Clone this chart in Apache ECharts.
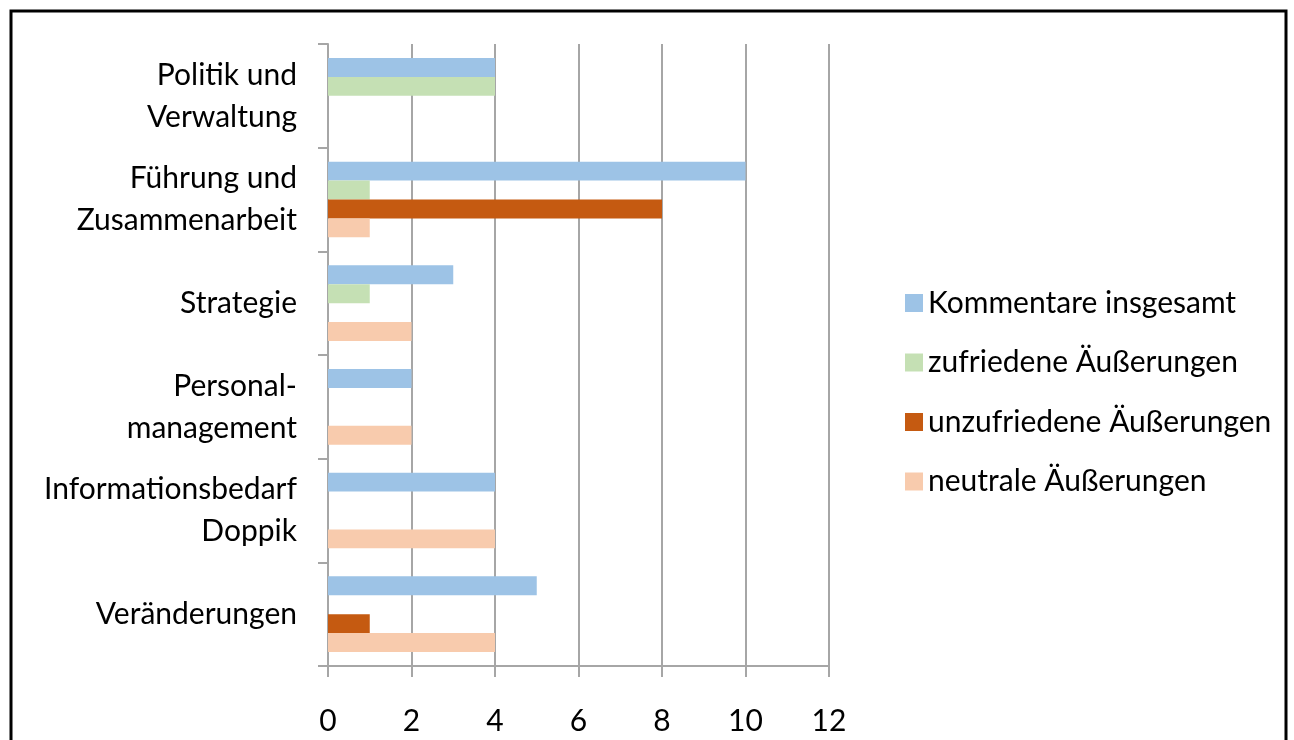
<!DOCTYPE html>
<html>
<head>
<meta charset="utf-8">
<script src="https://cdn.jsdelivr.net/npm/echarts@6/dist/echarts.min.js"></script>
<style>html,body{margin:0;padding:0;background:#fff;}#c{width:1294px;height:740px;}</style>
</head>
<body>
<div id="c"></div>
<script>
const categories = ["Politik und\nVerwaltung", "Führung und\nZusammenarbeit", "Strategie", "Personal-\nmanagement", "Informationsbedarf\nDoppik", "Veränderungen"];
const seriesNames = ["Kommentare insgesamt", "zufriedene Äußerungen", "unzufriedene Äußerungen", "neutrale Äußerungen"];
const kommentare = [4, 10, 3, 2, 4, 5];
const zufrieden = [4, 1, 1, 0, 0, 0];
const unzufrieden = [0, 8, 0, 0, 0, 1];
const neutral = [0, 1, 2, 2, 4, 4];
const xTicks = [0, 2, 4, 6, 8, 10, 12];

const colors = ["#9DC3E6", "#C5E0B4", "#C55A11", "#F8CBAD"];
const values = [kommentare, zufrieden, unzufrieden, neutral];
const FONT = "Lato";

const chart = echarts.init(document.getElementById('c'), null, {renderer: 'canvas'});
chart.setOption({
  animation: false,
  backgroundColor: '#fff',
  textStyle: {fontFamily: FONT},
  graphic: [{
    type: 'rect',
    shape: {x: 11, y: 11, width: 1275, height: 760},
    style: {fill: 'none', stroke: '#000', lineWidth: 3},
    silent: true
  }],
  grid: {left: 328, right: 1294 - 829, top: 44, bottom: 740 - 666, containLabel: false},
  legend: {
    orient: 'vertical',
    left: 900,
    top: 283,
    itemWidth: 18,
    itemHeight: 18,
    itemGap: 29.5,
    icon: 'rect',
    textStyle: {fontSize: 30, lineHeight: 30, color: '#000', fontFamily: FONT},
    data: seriesNames
  },
  xAxis: {
    type: 'value',
    min: xTicks[0],
    max: xTicks[xTicks.length - 1],
    interval: 2,
    axisLine: {show: true, lineStyle: {color: '#a6a6a6', width: 2}},
    axisTick: {show: true, length: 11, lineStyle: {color: '#a6a6a6', width: 2}},
    splitLine: {show: true, lineStyle: {color: '#a6a6a6', width: 2}},
    axisLabel: {fontSize: 30, color: '#000', margin: 40, fontFamily: FONT}
  },
  yAxis: {
    type: 'category',
    inverse: true,
    data: categories,
    axisLine: {show: true, lineStyle: {color: '#a6a6a6', width: 2}},
    axisTick: {show: true, length: 10, lineStyle: {color: '#a6a6a6', width: 2}},
    axisLabel: {fontSize: 30, color: '#000', margin: 31, lineHeight: 42, align: 'right', fontFamily: FONT}
  },
  series: seriesNames.map((n, i) => ({
    name: n,
    type: 'bar',
    data: values[i],
    itemStyle: {color: colors[i]},
    barGap: '0%',
    barCategoryGap: '27%'
  }))
});
</script>
</body>
</html>
